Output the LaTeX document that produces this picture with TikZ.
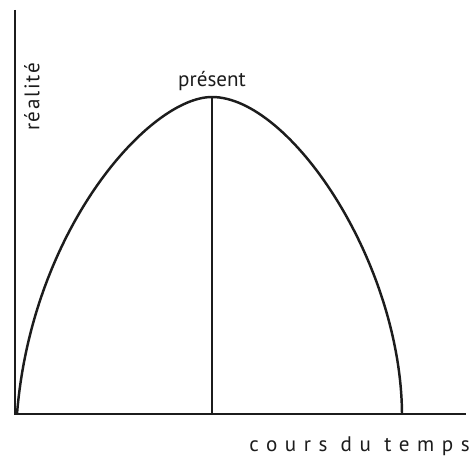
\documentclass[tikz,border=0pt]{standalone}
\usepackage{fontspec}
\setsansfont{PT Sans}
\usetikzlibrary{positioning, calc}
\definecolor{cInk}{HTML}{1C1C1C}
\tikzset{
  axisline/.style={line width=1.3pt, draw=cInk},
  curveline/.style={line width=1.4pt, draw=cInk, line join=round},
  nowline/.style={line width=1.1pt, draw=cInk},
  lab/.style={font=\sffamily\fontsize{12}{14}\selectfont, text=cInk, inner sep=0pt},
}

\begin{document}
\begin{tikzpicture}[x=0.02cm, y=-0.02cm]
  \useasboundingbox (0,0) rectangle (474,462);
  % ---- axes
  \coordinate (origin) at (15,414);
  \coordinate (ytop) at (15,10);
  \coordinate (xend) at (466,414);
  \draw[axisline] (ytop) -- (origin) -- (xend);

  % ---- reality curve, present and end of time
  \coordinate (start) at (17,414);
  \coordinate (peak) at (212,97);
  \coordinate (foot) at (212,414);
  \coordinate (stop) at (402,414);
  \draw[curveline] (start) .. controls (32,228) and (150,97) .. (peak)
                           .. controls (290,97) and (401,262) .. (stop);
  \draw[nowline] (peak) -- (foot);

  % ---- labels
  \node[lab, anchor=south] (now) at ([yshift=3.5pt]peak) {présent};
  \node[lab, rotate=90] (real) at (32,97) {\addfontfeature{LetterSpace=8}réalité};
  \node[lab, anchor=base east] (time) at (470,452) {\addfontfeature{LetterSpace=36}cours du temps};
\end{tikzpicture}
\end{document}
